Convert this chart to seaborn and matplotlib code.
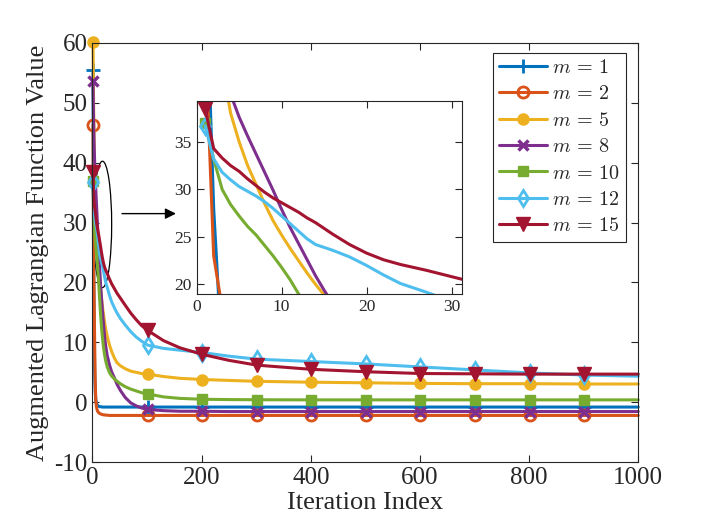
import matplotlib
matplotlib.use("Agg")
import matplotlib.pyplot as plt
import seaborn as sns
from matplotlib.lines import Line2D
from matplotlib.patches import Ellipse

ITERS = [1, 2, 3, 4, 5, 6, 7, 8, 9, 10, 11, 12, 13, 14, 15, 16, 18, 20, 22, 24,
         27, 31, 35, 40, 45, 51, 60, 70, 80, 90, 101, 130, 160, 201, 250, 301,
         401, 501, 601, 701, 801, 901, 1000]
MARK_AT = [1, 101, 201, 301, 401, 501, 601, 701, 801, 901]

m1 = [55.5, 28, 12, 5, 1.8, 0.5, -0.1, -0.35, -0.5, -0.6, -0.65, -0.7, -0.7, -0.75,
      -0.75, -0.75, -0.8, -0.8, -0.8, -0.8, -0.8, -0.8, -0.8, -0.8, -0.8, -0.8,
      -0.8, -0.8, -0.8, -0.8, -0.8, -0.8, -0.8, -0.8, -0.8, -0.8, -0.8, -0.8,
      -0.8, -0.8, -0.8, -0.8, -0.8]
m2 = [46.3, 23, 17.5, 10, 3.5, 0.5, -0.6, -1.1, -1.4, -1.6, -1.7, -1.8, -1.85, -1.9,
      -1.95, -2.0, -2.05, -2.1, -2.1, -2.15, -2.15, -2.2, -2.2, -2.2, -2.2, -2.2,
      -2.2, -2.2, -2.2, -2.2, -2.2, -2.2, -2.2, -2.2, -2.2, -2.2, -2.2, -2.2,
      -2.2, -2.2, -2.2, -2.2, -2.2]
m5 = [60.1, 50, 43, 38, 35, 32.5, 30.5, 28.5, 26.7, 25.2, 23.8, 22.5, 21.2, 20.0,
      18.9, 17.8, 16.2, 14.8, 13.5, 12.3, 11.0, 9.6, 8.5, 7.4, 6.6, 6.1, 5.6, 5.2,
      5.0, 4.8, 4.7, 4.3, 4.0, 3.8, 3.65, 3.5, 3.35, 3.25, 3.15, 3.1, 3.1, 3.05, 3.05]
m8 = [53.7, 47, 43, 40, 37.6, 35.6, 33.7, 31.8, 29.9, 27.9, 26.0, 24.3, 22.6, 20.9,
      19.4, 18.0, 15.5, 13.3, 11.2, 9.5, 7.8, 6.3, 5.1, 4.1, 3.0, 2.0, 0.8, -0.1,
      -0.6, -0.95, -1.2, -1.4, -1.5, -1.5, -1.55, -1.55, -1.55, -1.55, -1.55,
      -1.55, -1.55, -1.55, -1.55]
m10 = [37.0, 33.2, 30.0, 28.4, 27.2, 26.1, 25.2, 24.1, 23.0, 21.8, 20.5, 19.0, 17.4,
       15.9, 14.5, 13.2, 11.0, 9.3, 8.0, 7.0, 5.9, 5.0, 4.4, 3.9, 3.5, 3.1, 2.6,
       2.2, 1.9, 1.6, 1.4, 0.9, 0.65, 0.5, 0.45, 0.42, 0.4, 0.4, 0.4, 0.4, 0.4,
       0.4, 0.4]
m12 = [36.7, 33.2, 31.8, 31.0, 30.3, 29.8, 29.3, 28.7, 28.0, 27.2, 26.4, 25.6, 24.8,
       24.2, 23.9, 23.6, 22.9, 22.0, 21.0, 20.1, 19.2, 17.9, 16.8, 15.8, 14.9, 14.0,
       12.9, 11.8, 10.9, 10.2, 9.55, 9.0, 8.7, 8.3, 7.7, 7.2, 6.8, 6.4, 5.9, 5.4,
       4.9, 4.55, 4.35]
m15 = [38.5, 34.3, 33.3, 32.5, 31.9, 31.1, 30.4, 29.7, 29.1, 28.6, 28.1, 27.6, 27.0,
       26.5, 25.9, 25.3, 24.2, 23.3, 22.6, 22.1, 21.5, 20.6, 19.8, 19.0, 18.2, 17.4,
       16.2, 14.9, 13.8, 12.8, 12.0, 10.3, 9.1, 8.0, 7.0, 6.2, 5.5, 5.1, 4.8, 4.75,
       4.7, 4.7, 4.7]

M_VALUES = [1, 2, 5, 8, 10, 12, 15]
COLORS = ["#0072BD", "#D95319", "#EDB120", "#7E2F8E", "#77AC30", "#4DBEEE", "#A2142F"]
# (marker, size, filled, edge width)
MARKERS = [("+", 10, False, 2.0), ("o", 8, False, 2.0), ("o", 8, True, 1.0),
           ("x", 7, False, 2.5), ("s", 7.5, True, 1.0), ("d", 8.5, False, 2.0),
           ("v", 10, True, 1.0)]
SERIES = [m1, m2, m5, m8, m10, m12, m15]

TXT = "#262626"

sns.set_style("ticks")
plt.rcParams['font.family'] = ['Liberation Serif', 'DejaVu Serif']
plt.rcParams['mathtext.fontset'] = 'cm'
plt.rcParams['axes.unicode_minus'] = False

mark_idx = [ITERS.index(v) for v in MARK_AT]


def draw_lines(a, clip=True):
    for vals, col, (mk, ms, filled, mew) in zip(SERIES, COLORS, MARKERS):
        sns.lineplot(x=ITERS, y=vals, ax=a, color=col, linewidth=2.2,
                     marker=mk, markevery=mark_idx, markersize=ms,
                     markerfacecolor=col if filled else "none",
                     markeredgecolor=col, markeredgewidth=mew,
                     estimator=None, legend=False, clip_on=clip)


def style_axes(a, size):
    a.tick_params(direction="in", top=True, right=True, length=5, width=0.8,
                  labelsize=size, colors=TXT)
    for sp in a.spines.values():
        sp.set_color(TXT)
        sp.set_linewidth(0.8)


fig = plt.figure(figsize=(7.06, 5.30), dpi=100)
ax = fig.add_axes([0.131, 0.128, 0.773, 0.791])
draw_lines(ax, clip=False)
ax.set_xlim(0, 1000)
ax.set_ylim(-10, 60)
ax.set_xticks(range(0, 1001, 200))
ax.set_yticks(range(-10, 61, 10))
style_axes(ax, 18)
ax.set_xlabel("Iteration Index", fontsize=19, color=TXT, labelpad=2)
ax.set_ylabel("Augmented Lagrangian Function Value", fontsize=19, color=TXT, labelpad=4)

# zoom ellipse and arrow pointing at the inset
ax.add_patch(Ellipse((18.3, 29.7), 33.7, 21.1, fill=False, edgecolor="black", linewidth=0.9))
ax.annotate("", xy=(158, 31.5), xytext=(49, 31.5),
            arrowprops=dict(arrowstyle="-|>", color="black", lw=1, mutation_scale=16))

handles = []
for m, col, (mk, ms, filled, mew) in zip(M_VALUES, COLORS, MARKERS):
    handles.append(Line2D([], [], color=col, linewidth=2.2, marker=mk, markersize=ms,
                          markerfacecolor=col if filled else "none",
                          markeredgecolor=col, markeredgewidth=mew,
                          label=rf"$m\,=\,{m}$"))
leg = ax.legend(handles=handles, loc="upper right", bbox_to_anchor=(0.9775, 0.976),
                borderaxespad=0, fontsize=14.5, handlelength=2.4, handletextpad=0.25,
                labelspacing=0.36, borderpad=0.3, fancybox=False, framealpha=1,
                edgecolor=TXT, numpoints=1)
leg.get_frame().set_linewidth(0.8)

axin = fig.add_axes([0.2786, 0.4453, 0.3754, 0.3641])
draw_lines(axin)
axin.set_xlim(0, 31.2)
axin.set_ylim(19, 39.3)
axin.set_xticks([0, 10, 20, 30])
axin.set_yticks([20, 25, 30, 35])
style_axes(axin, 12.5)
axin.set_facecolor("white")

fig.savefig("out.png", dpi=100)
